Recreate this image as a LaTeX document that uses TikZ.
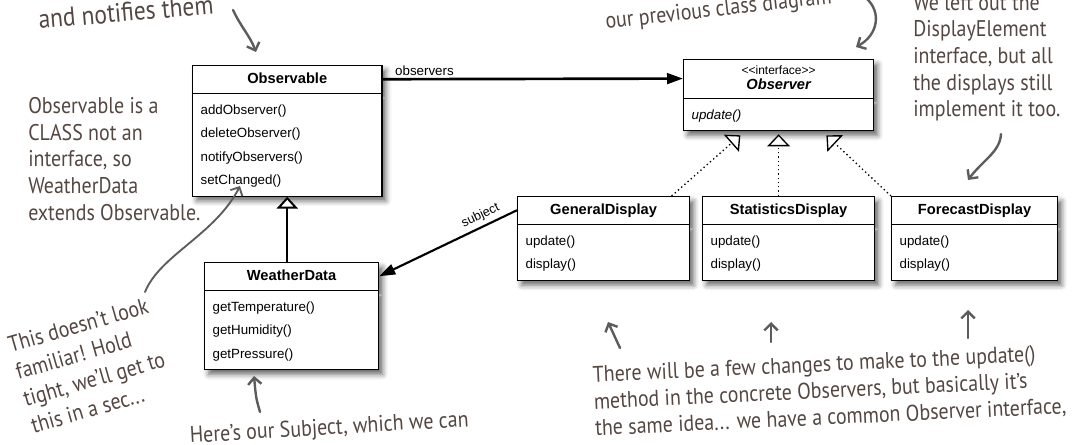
\documentclass[tikz,border=0pt]{standalone}
\usepackage{fontspec}
\setmainfont{Liberation Sans}
\newfontfamily\handfont{PT Sans}[FakeStretch=0.88]
\usetikzlibrary{shapes.multipart,arrows.meta,shadows.blur,calc,positioning}

\definecolor{handink}{RGB}{84,70,64}
\definecolor{handgray}{RGB}{92,92,92}

\newcommand{\classname}[1]{{\fontsize{11}{13}\selectfont\bfseries #1}}
\newcommand{\classtitle}[1]{\rule[-4pt]{0pt}{14pt}\classname{#1}}
\newcommand{\umlmethods}[1]{{\renewcommand{\arraystretch}{1.46}\begin{tabular}{@{}l@{}}#1\end{tabular}}}
\newcommand{\umlinterface}[1]{{\renewcommand{\arraystretch}{0.9}\begin{tabular}{@{}c@{}}{\fontsize{9}{10}\selectfont <\kern0pt<interface>\kern0pt>}\\ \classname{\itshape #1}\end{tabular}}}

\tikzstyle{classbox}=[rectangle split, rectangle split parts=2, rectangle split part align={center,left}, draw=black, line width=0.9pt, fill=white, inner xsep=6pt, inner ysep=3pt, font=\fontsize{10}{12}\selectfont, anchor=north west, blur shadow={shadow xshift=3pt, shadow yshift=-3.5pt, shadow blur radius=4pt, shadow opacity=60}]
\tikzstyle{hand}=[font=\handfont\fontsize{17}{20}\selectfont, text=handink, align=left, inner sep=0pt]
\tikzstyle{handarrow}=[draw=handgray, line width=1.8pt, line cap=round, -{Straight Barb[length=5pt,width=10pt]}]
\tikzstyle{assoc}=[line width=2pt, -{Triangle[length=12pt,width=8pt]}]
\tikzstyle{inherit}=[line width=1.5pt, -{Triangle[open,length=9pt,width=16pt,fill=white]}]
\tikzstyle{realize}=[line width=1pt, dash pattern=on 1pt off 2.2pt, -{Triangle[open,length=9pt,width=17pt,fill=white,line width=1pt]}]

\begin{document}
\begin{tikzpicture}[x=0.75pt, y=-0.75pt]
\useasboundingbox (0,0) rectangle (1075,445);

%Classes
    \node[classbox, minimum width=142pt] (observable) at (192,65)
        {\classtitle{Observable}\nodepart{two}\umlmethods{addObserver()\\deleteObserver()\\notifyObservers()\\setChanged()}};
    \node[classbox, minimum width=142.5pt] (observer) at (683,59)
        {\umlinterface{Observer}\nodepart{two}\umlmethods{\itshape update()}};
    \node[classbox, minimum width=130.5pt] (weatherdata) at (204,262)
        {\classtitle{WeatherData}\nodepart{two}\umlmethods{getTemperature()\\getHumidity()\\getPressure()}};

    \foreach \name/\title/\x/\w in {general/GeneralDisplay/517/129pt, stats/StatisticsDisplay/702/129pt, forecast/ForecastDisplay/891/124.5pt}
        \node[classbox, minimum width=\w] (\name) at (\x,196) {\classtitle{\title}\nodepart{two}\umlmethods{update()\\display()}};

%Relations
    \draw[assoc] ($(observable.north east)!0.5!(observable.text split east)$) -- node[pos=0, anchor=south west, xshift=7pt, inner sep=1.5pt] {observers} ($(observer.north west)!0.5!(observer.text split west)$);
    \draw[assoc, line width=1.6pt] ($(general.north west)!0.5!(general.text split west)$) -- node[sloped, above, pos=0.23, font=\fontsize{9.5}{11}\selectfont, inner sep=3pt] {subject} ($(weatherdata.north east)!0.5!(weatherdata.text split east)$);
    \draw[inherit] (observable.south |- weatherdata.north) -- (observable.south);

    \coordinate (realL) at ($(observer.south west)!0.3!(observer.south east)+(0,4)$);
    \coordinate (realM) at ($(observer.south)+(0,3)$);
    \coordinate (realR) at ($(observer.south west)!0.75!(observer.south east)+(0,4)$);
    \draw[realize] (general.32) -- (realL);
    \draw[realize] (observer.south |- stats.north) -- (realM);
    \draw[realize] (forecast.north west) -- (realR);

%Notes
    \node[hand, rotate=5, anchor=base west, font=\handfont\fontsize{20}{22}\selectfont] (notifynote) at (39,29) {and notifies them};
    \node[hand, rotate=6.5, anchor=base west] (diagramnote) at (606,29) {our previous class diagram};
    \node[hand, anchor=north west] (displaynote) at (913,-6) {We left out the\\DisplayElement\\interface, but all\\the displays still\\implement it too.};
    \node[hand, anchor=north west] (classnote) at (28,97) {Observable is a\\CLASS not an\\interface, so\\WeatherData\\extends Observable.};
    \node[hand, rotate=16, anchor=north west, font=\handfont\fontsize{17}{21}\selectfont] (familiarnote) at (6,337) {This doesn’t look\\familiar! Hold\\tight, we’ll get to\\this in a sec...};
    \node[hand, rotate=3.4, anchor=base west] (subjectnote) at (190,443) {Here’s our Subject, which we can};
    \node[hand, rotate=2.7, anchor=north west] (updatenote) at (592,366) {There will be a few changes to make to the update()\\method in the concrete Observers, but basically it’s\\the same idea... we have a common Observer interface,};

    \foreach \n/\x/\y in {notifytail/233/10, notifytip/256/52, diagramtail/866/-2, diagramtip/856/47,
                          displaytail/1001/134, displaytip/968/180, familiartail/145/292, familiartip/240/186,
                          subjecttail/260/412, subjecttip/254/376, genup/620/348, gentip/608/322,
                          statup/771/342, stattip/771/322, foreup/968/338, foretip/968/310}
        \coordinate (\n) at (\x,\y);

    \draw[handarrow] (notifytail) .. controls (241,27) and (250,36) .. (notifytip);
    \draw[handarrow] (diagramtail) .. controls (882,12) and (878,35) .. (diagramtip);
    \draw[handarrow] (displaytail) .. controls (1000,152) and (983,160) .. (displaytip);
    \draw[handarrow, line width=1.4pt] (familiartail) .. controls (160,255) and (215,235) .. (familiartip);
    \draw[handarrow] (subjecttail) .. controls (256,398) .. (subjecttip);
    \foreach \s/\e in {genup/gentip, statup/stattip, foreup/foretip}
        \draw[handarrow] (\s) -- (\e);

\end{tikzpicture}
\end{document}
